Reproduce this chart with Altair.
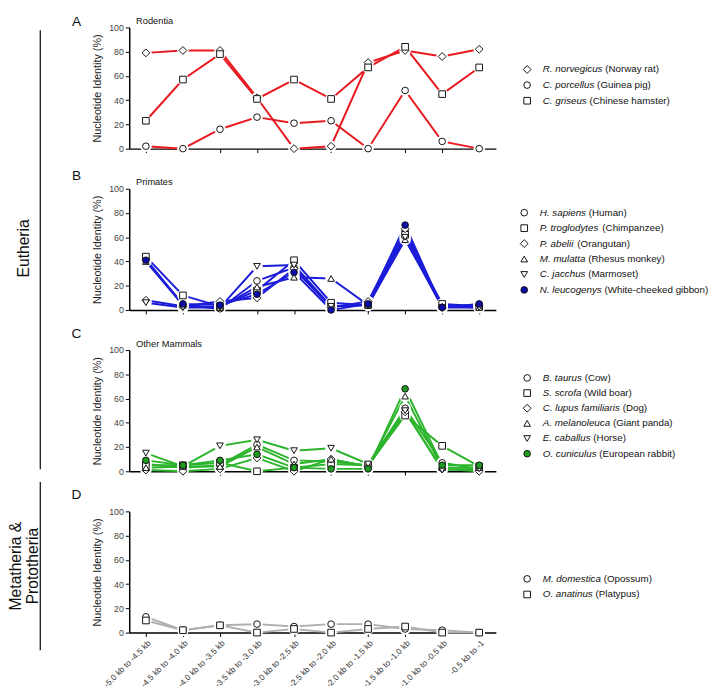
import altair as alt
import pandas as pd

FONT = "Liberation Sans"

categories = ["-5.0 kb to -4.5 kb", "-4.5 kb to -4.0 kb", "-4.0 kb to -3.5 kb",
              "-3.5 kb to -3.0 kb", "-3.0 kb to -2.5 kb", "-2.5 kb to -2.0 kb",
              "-2.0 kb to -1.5 kb", "-1.5 kb to -1.0 kb", "-1.0 kb to -0.5 kb",
              "-0.5 kb to -1"]

# ---- Panel A: Rodentia
r_norvegicus = [79, 81, 81, 42, 0, 2, 71, 81, 76, 82]
c_porcellus = [2, 0, 16, 26, 21, 23, 0, 48, 6, 0]
c_griseus = [23, 57, 78, 41, 57, 41, 67, 84, 45, 67]

# ---- Panel B: Primates
h_sapiens = [42, 4, 1, 24, 35, 3, 4, 65, 3, 4]
p_troglodytes = [44, 12, 3, 16, 41, 6, 4, 62, 5, 3]
p_abelii = [8, 3, 7, 10, 34, 2, 7, 67, 2, 4]
m_mulatta = [40, 4, 2, 19, 27, 26, 4, 58, 3, 2]
c_jacchus = [6, 2, 2, 36, 37, 3, 4, 60, 2, 2]
n_leucogenys = [41, 5, 4, 13, 31, 0, 5, 70, 2, 5]

# ---- Panel C: Other mammals
b_taurus = [6, 3, 5, 22, 9, 8, 5, 52, 7, 2]
s_scrofa = [5, 5, 7, 0, 3, 6, 5, 46, 21, 4]
c_lupus = [1, 0, 2, 11, 0, 10, 4, 49, 2, 0]
a_melanoleuca = [3, 4, 4, 20, 6, 10, 4, 62, 3, 3]
e_caballus = [15, 4, 21, 26, 17, 19, 6, 50, 1, 2]
o_cuniculus = [9, 5, 9, 14, 3, 2, 2, 68, 5, 5]

# ---- Panel D: Metatheria & Prototheria
m_domestica = [13, 2, 6, 7, 5, 7, 7, 3, 2, 0]
o_anatinus = [10, 2, 6, 0, 3, 0, 3, 5, 0, 0]

panel_a = [("R. norvegicus", "(Norway rat)", "diamond", False, r_norvegicus),
           ("C. porcellus", "(Guinea pig)", "circle", False, c_porcellus),
           ("C. griseus", "(Chinese hamster)", "square", False, c_griseus)]
panel_b = [("H. sapiens", "(Human)", "circle", False, h_sapiens),
           ("P. troglodytes", "(Chimpanzee)", "square", False, p_troglodytes),
           ("P. abelii", "(Orangutan)", "diamond", False, p_abelii),
           ("M. mulatta", "(Rhesus monkey)", "triangle-up", False, m_mulatta),
           ("C. jacchus", "(Marmoset)", "triangle-down", False, c_jacchus),
           ("N. leucogenys", "(White-cheeked gibbon)", "circle", True, n_leucogenys)]
panel_c = [("B. taurus", "(Cow)", "circle", False, b_taurus),
           ("S. scrofa", "(Wild boar)", "square", False, s_scrofa),
           ("C. lupus familiaris", "(Dog)", "diamond", False, c_lupus),
           ("A. melanoleuca", "(Giant panda)", "triangle-up", False, a_melanoleuca),
           ("E. caballus", "(Horse)", "triangle-down", False, e_caballus),
           ("O. cuniculus", "(European rabbit)", "circle", True, o_cuniculus)]
panel_d = [("M. domestica", "(Opossum)", "circle", False, m_domestica),
           ("O. anatinus", "(Platypus)", "square", False, o_anatinus)]

SIZES = {"circle": 46, "square": 46, "diamond": 64, "triangle-up": 46, "triangle-down": 46}

AW = {' ': 278, '.': 278, '(': 333, ')': 333, '-': 333, '&': 667,
      'a': 556, 'b': 556, 'c': 500, 'd': 556, 'e': 556, 'f': 278, 'g': 556, 'h': 556,
      'i': 222, 'j': 222, 'k': 500, 'l': 222, 'm': 833, 'n': 556, 'o': 556, 'p': 556,
      'q': 556, 'r': 333, 's': 500, 't': 278, 'u': 556, 'v': 500, 'w': 722, 'x': 500,
      'y': 500, 'z': 500, 'A': 667, 'B': 667, 'C': 722, 'D': 722, 'E': 667, 'F': 611,
      'G': 778, 'H': 722, 'I': 278, 'J': 500, 'K': 667, 'L': 556, 'M': 833, 'N': 722,
      'O': 778, 'P': 667, 'Q': 778, 'R': 722, 'S': 667, 'T': 611, 'U': 722, 'V': 667,
      'W': 944, 'X': 667, 'Y': 667, 'Z': 611}


def tw(s, size):
    return sum(AW.get(ch, 556) for ch in s) * size / 1000.0


PLOT_W = 375
PLOT_H = 124
LEG_FS = 10


def build_panel(series, color, fillcolor, letter, letter_y, title,
                leg_y0, leg_step, leg_sym_x, leg_txt_x, last):
    rows = []
    for sp, cm, shp, filled, vals in series:
        for ci, (cat, v) in enumerate(zip(categories, vals)):
            rows.append(dict(sp=sp, cat=cat, ci=ci, v=v, shape=shp,
                             fill=fillcolor if filled else "white",
                             size=SIZES[shp]))
    df = pd.DataFrame(rows)

    if last:
        xaxis = alt.Axis(title=None, labelAngle=-45, labelFontSize=8.5,
                         labelColor="#333333", tickSize=4, labelPadding=2,
                         domainWidth=1.5, domainColor="black", tickColor="black")
    else:
        xaxis = alt.Axis(title=None, labels=False, tickSize=4,
                         domainWidth=1.5, domainColor="black", tickColor="black")
    x = alt.X("cat:O", sort=categories,
              scale=alt.Scale(type="point", domain=categories, padding=0.45),
              axis=xaxis)
    y = alt.Y("v:Q", scale=alt.Scale(domain=[0, 100], nice=False),
              axis=alt.Axis(values=[0, 20, 40, 60, 80, 100], title="Nucleotide Identity (%)",
                            titleFontSize=11, titleFontWeight="normal", titleColor="#222222",
                            titlePadding=6, labelFontSize=9, labelColor="#444444",
                            tickSize=4, labelPadding=2, grid=False,
                            domainWidth=1.5, domainColor="black", tickColor="black"))

    base = alt.Chart(df)
    lines = base.mark_line(color=color, strokeWidth=2).encode(
        x=x, y=y, detail="sp:N", order="ci:Q")
    halos = base.mark_point(shape="circle", filled=True, color="white",
                            size=140, opacity=1).encode(x=x, y=y)
    pts = base.mark_point(filled=True, opacity=1, strokeWidth=1).encode(
        x=x, y=y,
        shape=alt.Shape("shape:N", scale=None),
        fill=alt.Fill("fill:N", scale=None),
        stroke=alt.value("#111111"),
        size=alt.Size("size:Q", scale=None))
    plot = alt.layer(lines, halos, pts)

    n = len(series)
    leg_df = pd.DataFrame(dict(
        idx=list(range(n)),
        sp=[s[0] for s in series],
        cm=[s[1] for s in series],
        shape=[s[2] for s in series],
        fill=[fillcolor if s[3] else "white" for s in series],
        size=[SIZES[s[2]] for s in series],
        xc=[leg_txt_x + tw(s[0] + " ", LEG_FS) for s in series],
    ))
    ly = alt.Y("idx:Q", scale=alt.Scale(domain=[0, n - 1],
                                        range=[leg_y0, leg_y0 + leg_step * (n - 1)]),
               axis=None)
    lbase = alt.Chart(leg_df)
    sym = lbase.mark_point(filled=True, opacity=1, strokeWidth=1).encode(
        x=alt.value(leg_sym_x), y=ly,
        shape=alt.Shape("shape:N", scale=None),
        fill=alt.Fill("fill:N", scale=None),
        stroke=alt.value("#111111"),
        size=alt.Size("size:Q", scale=None))
    it = lbase.mark_text(align="left", baseline="middle", fontSize=LEG_FS,
                         fontStyle="italic", font=FONT, color="#111111").encode(
        x=alt.value(leg_txt_x), y=ly, text="sp:N")
    cmn = lbase.mark_text(align="left", baseline="middle", fontSize=LEG_FS,
                          font=FONT, color="#111111").encode(
        x=alt.X("xc:Q", scale=alt.Scale(domain=[0, 1000], range=[0, 1000]), axis=None),
        y=ly, text="cm:N")
    legend = alt.layer(sym, it, cmn)

    ann_df = pd.DataFrame({"t": [letter], "u": [title]})
    ann = alt.Chart(ann_df)
    layers = [plot, legend,
              ann.mark_text(fontSize=14, font=FONT, align="center", baseline="middle",
                            color="#111111").encode(
                  x=alt.value(-54), y=alt.value(letter_y), text="t:N")]
    if title:
        layers.append(ann.mark_text(fontSize=9.5, font=FONT, align="left", baseline="middle",
                                    color="#111111").encode(
            x=alt.value(7), y=alt.value(-6.5), text="u:N"))
    return alt.layer(*layers).resolve_scale(x="independent", y="independent").properties(
        width=PLOT_W, height=PLOT_H)


row_a = build_panel(panel_a, "#e8191f", "#e8191f", "A", -5, "Rodentia",
                    43, 16, 407, 423, False)
row_b = build_panel(panel_b, "#1c1cd8", "#0c0caa", "B", -13, "Primates",
                    24.5, 15.8, 404, 420, False)
row_c = build_panel(panel_c, "#2cb42c", "#1e9a1e", "C", -16, "Other Mammals",
                    28.5, 15.5, 407, 423, False)
row_d = build_panel(panel_d, "#b0b0b0", "#b0b0b0", "D", -17, "",
                    69, 16, 407, 423, True)

right = alt.vconcat(row_a, row_b, row_c, row_d, spacing=41, bounds="flush")

group_df = pd.DataFrame({"a": ["Eutheria"], "b": ["Metatheria &"], "c": ["Prototheria"]})
gb = alt.Chart(group_df)
left = alt.layer(
    gb.mark_rule(color="black", strokeWidth=1.2).encode(
        x=alt.value(32), y=alt.value(3), y2=alt.value(452)),
    gb.mark_rule(color="black", strokeWidth=1.2).encode(
        x=alt.value(32), y=alt.value(465), y2=alt.value(637)),
    gb.mark_text(angle=270, fontSize=16, font=FONT, color="#111111").encode(
        x=alt.value(15), y=alt.value(226), text="a:N"),
    gb.mark_text(angle=270, fontSize=16, font=FONT, color="#111111").encode(
        x=alt.value(7), y=alt.value(551), text="b:N"),
    gb.mark_text(angle=270, fontSize=16, font=FONT, color="#111111").encode(
        x=alt.value(25), y=alt.value(551), text="c:N"),
).properties(width=50, height=640)

chart = alt.hconcat(left, right, spacing=13, padding=0).configure(
    font=FONT).configure_view(stroke=None)

chart.save("out.html", embed_options={"renderer": "svg", "actions": False})
